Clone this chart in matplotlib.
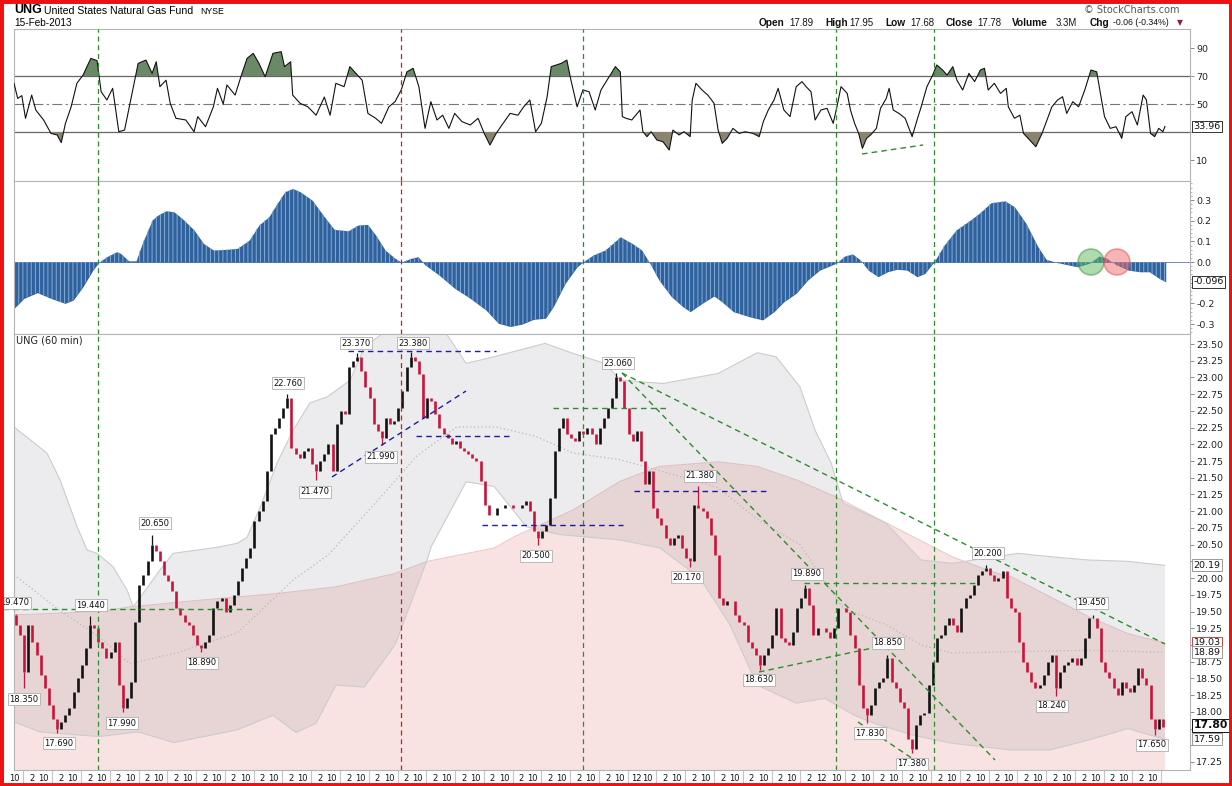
import matplotlib
matplotlib.use("Agg")
import matplotlib.pyplot as plt
import numpy as np
from matplotlib.patches import Circle, Rectangle
from matplotlib.ticker import MultipleLocator, FuncFormatter

W, H = 1232, 786

# hourly closes
closes = [
    19.30, 19.15, 18.60, 19.30, 19.05, 18.85, 18.55, 18.35, 18.10, 17.90,
    17.75, 17.85, 17.95, 18.05, 18.30, 18.50, 18.70, 18.95, 19.30, 19.25,
    19.05, 18.95, 18.80, 18.90, 19.05, 18.40, 18.05, 18.20, 18.45, 19.35,
    19.90, 20.05, 20.25, 20.50, 20.40, 20.25, 20.05, 19.95, 19.80, 19.55,
    19.45, 19.35, 19.30, 19.15, 19.00, 18.95, 19.05, 19.15, 19.55, 19.65,
    19.70, 19.50, 19.60, 19.75, 19.95, 20.15, 20.30, 20.45, 20.85, 21.00,
    21.15, 21.60, 22.15, 22.25, 22.40, 22.55, 22.70, 21.95, 21.85, 21.80,
    21.90, 21.95, 21.70, 21.60, 21.75, 21.85, 22.00, 21.60, 22.30, 22.50,
    22.45, 23.15, 23.25, 23.30, 23.10, 22.85, 22.70, 22.30, 22.20, 22.10,
    22.40, 22.30, 22.35, 22.55, 22.80, 23.15, 23.30, 23.25, 23.05, 22.40,
    22.70, 22.65, 22.45, 22.25, 22.15, 22.10, 22.00, 22.05, 21.95, 21.90,
    21.85, 21.80, 21.75, 21.45, 21.10, 20.95, 20.95, 21.05, 21.05, 21.10,
    21.10, 21.05, 21.05, 21.10, 21.15, 21.00, 20.70, 20.60, 20.70, 20.80,
    21.20, 21.90, 22.25, 22.40, 22.15, 22.10, 22.05, 22.20, 22.15, 22.25,
    22.15, 22.00, 22.25, 22.40, 22.55, 22.70, 23.00, 22.95, 22.55, 22.15,
    22.05, 22.20, 21.75, 21.40, 21.60, 21.05, 20.90, 20.80, 20.60, 20.50,
    20.60, 20.65, 20.45, 20.30, 20.25, 21.10, 21.05, 21.00, 20.90, 20.65,
    20.35, 19.70, 19.60, 19.65, 19.65, 19.45, 19.35, 19.30, 19.05, 18.95,
    18.85, 18.70, 18.85, 18.95, 19.15, 19.55, 19.10, 19.05, 19.00, 19.20,
    19.55, 19.70, 19.85, 19.60, 19.15, 19.25, 19.25, 19.20, 19.10, 19.25,
    19.55, 19.55, 19.50, 19.15, 18.95, 18.40, 18.05, 17.95, 18.10, 18.35,
    18.45, 18.50, 18.80, 18.45, 18.35, 18.15, 18.05, 17.60, 17.45, 17.80,
    17.95, 17.98, 18.40, 18.75, 19.10, 19.15, 19.30, 19.40, 19.30, 19.20,
    19.55, 19.70, 19.75, 19.90, 20.05, 20.10, 20.15, 20.05, 19.95, 20.00,
    20.10, 19.70, 19.55, 19.50, 19.05, 18.75, 18.60, 18.45, 18.35, 18.40,
    18.55, 18.75, 18.85, 18.35, 18.60, 18.70, 18.75, 18.80, 18.70, 18.80,
    19.10, 19.40, 19.40, 19.25, 18.75, 18.60, 18.50, 18.35, 18.25, 18.45,
    18.35, 18.30, 18.40, 18.65, 18.50, 18.40, 17.90, 17.75, 17.90, 17.78,
]
first_open = 19.45

# labelled highs / lows (bar, price)
wick_bar = [0, 2, 10, 18, 26, 33, 45, 66, 73, 83, 89, 96, 127,
            146, 166, 164, 192, 181, 212, 207, 218, 236, 262, 253, 277]
wick_px = [19.47, 18.35, 17.69, 19.44, 17.99, 20.65, 18.89, 22.76, 21.47, 23.37,
           21.99, 23.38, 20.50, 23.06, 21.38, 20.17, 19.89, 18.63, 18.85, 17.83,
           17.38, 20.20, 19.45, 18.24, 17.65]

# RSI line (bar position, value)
rsi_bar = [
    -0.5, 0.4, 1.4, 2.3, 3.8, 4.8, 6.7, 8.5, 10.0, 11.0,
    12.0, 13.4, 14.8, 16.3, 18.2, 19.7, 20.7, 22.1, 23.5, 25.0,
    26.4, 27.4, 28.8, 29.7, 31.6, 33.1, 34.1, 35.0, 36.5, 37.5,
    38.9, 41.3, 43.3, 44.2, 46.1, 48.0, 49.0, 50.4, 51.3, 53.3,
    54.7, 56.2, 57.7, 59.1, 60.6, 62.5, 64.5, 65.3, 66.8, 67.3,
    69.1, 71.0, 73.0, 75.0, 76.4, 77.8, 79.8, 81.2, 82.7, 84.2,
    85.6, 87.5, 88.9, 90.7, 92.2, 93.7, 95.1, 96.6, 98.0, 99.5,
    100.9, 102.4, 103.8, 105.3, 106.7, 108.5, 110.5, 112.4, 113.9, 115.3,
    116.8, 118.2, 120.2, 122.1, 123.5, 125.0, 126.4, 127.8, 129.2, 130.2,
    132.6, 134.0, 135.0, 136.5, 137.9, 139.4, 140.9, 142.3, 144.3, 145.8,
    147.0, 147.5, 148.4, 149.8, 151.8, 152.5, 153.5, 154.5, 155.9, 157.4,
    158.9, 159.8, 161.3, 162.5, 164.0, 164.5, 165.4, 166.9, 168.3, 169.8,
    170.8, 171.8, 173.0, 174.4, 175.9, 177.4, 179.3, 180.8, 181.8, 183.0,
    184.4, 185.4, 186.8, 188.3, 189.8, 191.2, 192.2, 193.4, 194.4, 195.8,
    197.3, 198.8, 199.7, 200.7, 202.2, 203.0, 204.0, 205.0, 205.9, 206.9,
    207.9, 209.3, 210.3, 211.7, 212.4, 213.4, 214.8, 216.3, 218.0, 219.2,
    220.2, 221.6, 223.0, 224.0, 225.4, 226.5, 227.9, 228.9, 230.3, 231.8,
    233.2, 234.6, 235.6, 236.5, 238.0, 239.5, 240.9, 241.4, 242.9, 244.2,
    245.1, 246.6, 248.1, 249.6, 250.5, 252.0, 253.4, 254.6, 255.6, 257.1,
    258.5, 260.0, 261.5, 262.9, 263.8, 264.8, 266.2, 267.6, 269.0, 270.0,
    271.5, 272.8, 274.2, 275.0, 276.0, 277.0, 278.0, 279.0, 279.5,
]
rsi_val = [
    64.8, 54.0, 56.0, 39.8, 56.4, 45.7, 38.6, 29.0, 27.9, 22.4,
    36.0, 48.0, 64.8, 70.7, 82.6, 81.0, 58.8, 52.9, 61.2, 30.2,
    31.4, 45.7, 66.0, 79.0, 81.4, 71.9, 80.2, 62.4, 67.0, 50.5,
    39.8, 38.6, 30.2, 41.0, 33.8, 48.0, 61.2, 50.0, 63.6, 56.4,
    69.5, 82.6, 86.2, 79.0, 69.5, 86.2, 87.4, 76.7, 80.2, 56.4,
    50.5, 48.0, 42.0, 55.0, 42.0, 64.8, 62.4, 76.7, 71.9, 67.0,
    43.3, 39.8, 36.2, 48.0, 51.7, 60.0, 73.0, 75.5, 62.4, 32.6,
    51.7, 38.6, 42.0, 32.6, 43.3, 37.4, 35.0, 39.8, 29.0, 20.7,
    29.0, 35.0, 43.3, 42.0, 48.0, 52.9, 30.2, 36.2, 55.2, 76.7,
    79.0, 81.4, 67.0, 48.0, 60.0, 58.8, 45.7, 60.0, 69.5, 76.7,
    73.0, 41.0, 39.8, 38.6, 45.7, 30.2, 26.7, 30.2, 24.3, 23.0,
    17.1, 31.4, 27.9, 30.2, 26.7, 52.9, 64.8, 60.0, 56.4, 50.5,
    31.4, 21.9, 25.5, 32.6, 29.0, 30.2, 29.0, 26.7, 37.4, 45.7,
    52.9, 61.2, 45.7, 41.0, 62.4, 66.0, 62.4, 58.8, 38.6, 45.7,
    46.9, 36.2, 48.0, 62.4, 57.6, 45.7, 36.2, 29.0, 18.3, 25.5,
    27.9, 32.6, 46.9, 54.0, 61.2, 45.7, 43.3, 39.8, 26.7, 38.6,
    48.0, 62.4, 70.7, 77.9, 74.3, 70.7, 76.7, 67.0, 60.0, 71.9,
    66.0, 74.3, 75.5, 60.0, 64.8, 57.6, 61.2, 48.0, 39.8, 42.0,
    29.0, 24.3, 19.5, 29.0, 36.2, 48.0, 52.9, 55.2, 43.3, 51.7,
    48.0, 60.0, 74.3, 73.0, 57.6, 41.0, 32.6, 33.8, 25.5, 41.0,
    44.5, 35.0, 56.4, 52.9, 29.0, 26.7, 32.6, 30.2, 33.96,
]

# MACD histogram outline (bar position, value)
macd_bar = [
    -0.5, 1.9, 5.2, 8.5, 11.9, 13.9, 16.3, 18.7, 20.2, 22.1,
    24.5, 25.4, 27.4, 29.2, 30.7, 33.1, 34.5, 36.5, 38.4, 40.4,
    43.3, 45.6, 48.0, 50.9, 53.8, 56.7, 59.1, 61.5, 63.5, 65.4,
    67.3, 69.1, 72.0, 75.0, 77.4, 80.8, 83.2, 85.5, 87.5, 89.8,
    92.2, 93.7, 96.1, 97.8, 99.5, 102.9, 106.7, 110.5, 114.3, 117.3,
    120.2, 123.1, 125.9, 128.8, 130.7, 133.6, 136.5, 137.9, 140.4, 143.3,
    147.0, 149.9, 152.2, 154.0, 156.4, 159.4, 162.2, 164.0, 166.9, 169.8,
    171.7, 174.5, 178.3, 181.6, 184.4, 186.8, 189.8, 192.6, 195.5, 198.3,
    199.5, 201.6, 203.5, 205.4, 207.3, 209.7, 212.0, 214.3, 216.7, 219.2,
    221.1, 223.3, 225.8, 228.7, 231.6, 234.3, 237.2, 240.6, 242.9, 245.7,
    248.6, 250.6, 253.4, 258.2, 261.1, 263.5, 265.3, 267.7, 270.6, 273.4,
    275.7, 278.1, 279.7,
]
macd_val = [
    -0.224, -0.176, -0.148, -0.176, -0.200, -0.184, -0.119, -0.039, 0.0, 0.026,
    0.050, 0.042, 0.006, 0.006, 0.090, 0.203, 0.227, 0.248, 0.243, 0.211,
    0.155, 0.090, 0.058, 0.061, 0.066, 0.106, 0.179, 0.219, 0.283, 0.340,
    0.356, 0.340, 0.300, 0.219, 0.158, 0.151, 0.179, 0.182, 0.130, 0.058,
    0.018, 0.0, 0.018, 0.026, -0.014, -0.063, -0.127, -0.176, -0.232, -0.296,
    -0.312, -0.300, -0.277, -0.272, -0.216, -0.103, -0.023, 0.0, 0.034, 0.058,
    0.122, 0.090, 0.058, 0.0, -0.087, -0.167, -0.216, -0.240, -0.200, -0.164,
    -0.192, -0.240, -0.264, -0.280, -0.240, -0.192, -0.151, -0.087, -0.039, -0.016,
    -0.006, 0.029, 0.039, 0.010, -0.039, -0.071, -0.047, -0.035, -0.039, -0.071,
    -0.055, 0.0, 0.082, 0.155, 0.195, 0.235, 0.287, 0.296, 0.267, 0.187,
    0.074, 0.013, -0.003, -0.023, -0.006, 0.029, 0.018, -0.014, -0.039, -0.047,
    -0.047, -0.079, -0.096,
]

# short bands (grey) and long bands (pink) on the price panel
gray_up_bar = [-0.5, 7.5, 10.7, 14.9, 17.3, 19.7, 23.6, 27.0, 28.5, 30.9,
               35.0, 38.2, 48.9, 53.8, 56.2, 59.4, 63.5, 67.4, 71.5, 75.7,
               81.3, 84.7, 92.2, 103.1, 109.5, 116.3, 128.7, 135.5, 143.3, 147.0,
               157.4, 170.8, 180.3, 184.9, 190.7, 194.4, 198.3, 201.2, 205.8, 211.7,
               216.3, 220.2, 227.7, 238.2, 243.8, 251.6, 261.0, 270.5, 279.5]
gray_up = [22.26, 21.87, 21.47, 20.76, 20.42, 20.37, 20.17, 19.82, 19.57, 19.77,
           20.12, 20.37, 20.46, 20.52, 20.61, 21.06, 21.72, 22.21, 22.62, 22.71,
           22.96, 23.45, 23.80, 23.80, 23.21, 23.31, 23.51, 23.36, 23.21, 22.96,
           22.91, 23.06, 23.37, 23.31, 22.86, 22.21, 21.72, 21.12, 20.99, 20.82,
           20.52, 20.27, 20.22, 20.32, 20.37, 20.32, 20.27, 20.25, 20.19]
gray_lo_bar = [-0.5, 5.8, 20.2, 29.7, 38.4, 53.8, 62.5, 68.1, 73.0, 77.8,
               84.7, 92.2, 100.0, 101.0, 109.5, 116.3, 124.1, 132.3, 147.0, 156.7,
               166.4, 173.7, 180.3, 189.8, 196.8, 203.9, 208.7, 218.2, 227.7, 242.1,
               251.6, 261.0, 270.5, 279.5]
gray_lo = [17.85, 17.70, 17.63, 17.70, 17.54, 17.73, 17.95, 17.69, 17.83, 18.40,
           18.37, 19.00, 20.27, 20.47, 21.44, 21.37, 20.77, 20.65, 20.57, 20.45,
           20.00, 19.30, 18.40, 18.13, 18.20, 17.95, 17.83, 17.65, 17.53, 17.43,
           17.43, 17.58, 17.75, 17.59]
gray_mid_bar = [-0.5, 10.5, 20.2, 27.7, 39.0, 53.8, 67.4, 76.0, 83.7, 90.0,
                97.4, 107.2, 116.8, 126.4, 135.5, 147.0, 157.0, 170.8, 180.3, 190.7,
                201.2, 211.7, 220.2, 227.7, 243.8, 261.0, 279.5]
gray_mid = [20.05, 19.52, 19.12, 18.72, 18.88, 19.18, 19.97, 20.35, 20.87, 21.30,
            21.82, 22.26, 22.26, 22.12, 21.87, 21.77, 21.60, 21.35, 20.88, 20.50,
            19.55, 19.30, 19.00, 18.88, 18.90, 18.92, 18.89]
pink_up_bar = [-0.5, 20.4, 27.7, 44.8, 63.5, 77.8, 92.2, 100.0, 116.3, 121.2,
               135.5, 147.0, 156.4, 170.8, 180.3, 189.8, 199.3, 208.7, 218.2, 227.7,
               237.2, 242.1, 251.6, 261.0, 270.5, 279.5]
pink_up = [19.45, 19.50, 19.57, 19.67, 19.77, 19.87, 20.07, 20.25, 20.45, 20.62,
           21.02, 21.45, 21.67, 21.74, 21.67, 21.47, 21.22, 20.92, 20.62, 20.32,
           20.10, 20.02, 19.72, 19.42, 19.17, 19.03]

# ---------------------------------------------------------------- layout
PEAK_TAGS = [
    ("19.470", 15, 603), ("18.350", 24, 699), ("17.690", 59, 743),
    ("19.440", 91, 605), ("17.990", 122, 723), ("20.650", 155, 523),
    ("18.890", 202, 663), ("22.760", 288, 383), ("21.470", 315, 492),
    ("23.370", 356, 343), ("21.990", 381, 457), ("23.380", 413, 343),
    ("20.500", 536, 556), ("23.060", 618, 363), ("21.380", 700, 476),
    ("20.170", 687, 577), ("19.890", 807, 574), ("18.630", 759, 680),
    ("18.850", 888, 643), ("17.830", 870, 733), ("17.380", 912, 764),
    ("20.200", 988, 553), ("19.450", 1092, 603), ("18.240", 1052, 706),
    ("17.650", 1152, 745),
]
BLUE_LINES = [((348, 351), (496, 351)), ((332, 477), (466, 391)),
              ((416, 436), (510, 436)), ((482, 525), (623, 525)),
              ((634, 491), (768, 491))]
GREEN_LINES = [((3, 609), (253, 609)), ((553, 408), (667, 408)),
               ((622, 373), (1165, 644)), ((622, 373), (995, 760)),
               ((804, 583), (979, 583)), ((759, 672), (901, 642)),
               ((858, 722), (925, 767))]
GREEN_V = [98, 583, 836, 934]
RED_V = [401]
GREEN = "#2e8b2e"
BLUE = "#1c1c9c"
DASH = (0, (4, 3))
UP_COL, DOWN_COL = "#111111", "#c8143a"
SANS = ["Liberation Sans", "DejaVu Sans"]

L, R = 14, 1190
XMIN, XMAX = -0.5, 285.6


def fx(px):
    return px / W


def fy(py):
    return 1 - py / H


def box(top, bottom):
    return [L / W, 1 - bottom / H, (R - L) / W, (bottom - top) / H]


def hide_labels(fmt, hidden):
    return FuncFormatter(lambda v, pos: "" if any(abs(v - h) < 1e-6 for h in hidden)
                         else fmt % v)


fig = plt.figure(figsize=(W / 100, H / 100), dpi=100)
fig.patch.set_facecolor("white")
ax_rsi = fig.add_axes(box(29, 181))
ax_macd = fig.add_axes(box(181, 334))
ax_px = fig.add_axes(box(334, 770))
axes = (ax_rsi, ax_macd, ax_px)

for ax in axes:
    ax.set_xlim(XMIN, XMAX)
    for s in ax.spines.values():
        s.set_color("#b4b4b4")
        s.set_linewidth(0.8)
    ax.yaxis.tick_right()
    ax.tick_params(axis="y", which="major", direction="out", length=3, width=0.6,
                   color="#777777", labelsize=6.8, pad=1.5, labelcolor="#222222")
    ax.tick_params(axis="y", which="minor", direction="out", length=1.5, width=0.5,
                   color="#999999")
    ax.tick_params(axis="x", bottom=False, labelbottom=False)

ax_rsi.set_ylim(-5, 103.6)
ax_macd.set_ylim(-0.348, 0.392)
ax_px.set_ylim(17.13, 23.65)
fig.canvas.draw()


def to_data(ax, px, py):
    return ax.transData.inverted().transform((px, H - py))


# ---------------------------------------------------------------- RSI
rx = np.array(rsi_bar)
ry = np.array(rsi_val)
ax_rsi.fill_between(rx, ry, 70, where=ry >= 70, interpolate=True,
                    color="#6a8966", lw=0, zorder=2)
ax_rsi.fill_between(rx, ry, 30, where=ry <= 30, interpolate=True,
                    color="#8a836f", lw=0, zorder=2)
ax_rsi.plot(rx, ry, color="#111111", lw=0.8, zorder=3)
ax_rsi.axhline(70, color="#666666", lw=0.9, zorder=1)
ax_rsi.axhline(30, color="#666666", lw=0.9, zorder=1)
ax_rsi.axhline(50, color="#777777", lw=0.8, ls=(0, (9, 3, 2, 3)), zorder=1)
ax_rsi.set_yticks([10, 30, 50, 70, 90])
ax_rsi.yaxis.set_major_formatter(hide_labels("%d", [30]))
(x0, y0), (x1, y1) = to_data(ax_rsi, 862, 154), to_data(ax_rsi, 923, 145)
ax_rsi.plot([x0, x1], [y0, y1], color=GREEN, lw=1.0, ls=DASH, zorder=4)

# ---------------------------------------------------------------- MACD histogram
mx = np.array(macd_bar)
my = np.array(macd_val)
ax_macd.fill_between(mx, my, 0, color="#2f619d", lw=0, zorder=2)
plt.rcParams["hatch.linewidth"] = 0.7
ax_macd.fill_between(mx, my, 0, facecolor="none", edgecolor="#86acd6",
                     hatch="||||", lw=0, zorder=2.1)
ax_macd.axhline(0, color="#2f619d", lw=0.5, zorder=1)
ax_macd.set_yticks([-0.3, -0.2, -0.1, 0.0, 0.1, 0.2, 0.3])
ax_macd.yaxis.set_major_formatter(hide_labels("%.1f", [-0.1]))
ax_macd.yaxis.set_minor_locator(MultipleLocator(0.02))
for cx, fc, ec in [(1091, "#5cb85c", "#3f8f3f"), (1117, "#f06a6a", "#e05050")]:
    ax_macd.add_patch(Circle((cx / 100, (H - 262) / 100), 0.13,
                             transform=fig.dpi_scale_trans, facecolor=fc,
                             edgecolor=ec, lw=1.2, alpha=0.5, zorder=6))

# ---------------------------------------------------------------- price panel
pink_x = pink_up_bar + [pink_up_bar[-1], pink_up_bar[0]]
pink_y = pink_up + [16.9, 16.9]
ax_px.fill(pink_x, pink_y, color="#f8e2e2", lw=0, zorder=1)
ax_px.plot(pink_up_bar, pink_up, color="#e9caca", lw=0.7, zorder=1.2)

gx = gray_up_bar + gray_lo_bar[::-1]
gy = gray_up + gray_lo[::-1]
ax_px.fill(gx, gy, color="#9a9aa4", alpha=0.18, lw=0, zorder=1.5)
ax_px.plot(gray_up_bar, gray_up, color="#cccccc", lw=0.8, zorder=1.6)
ax_px.plot(gray_lo_bar, gray_lo, color="#cccccc", lw=0.8, zorder=1.6)
ax_px.plot(gray_mid_bar, gray_mid, color="#b8b8b8", lw=0.9, ls=(0, (1, 2)), zorder=1.7)

c = np.array(closes)
o = np.concatenate([[first_open], c[:-1]])
bx = np.arange(len(c))
up = c >= o
ax_px.vlines(bx[up], o[up], c[up], color=UP_COL, lw=1.9, zorder=5)
ax_px.vlines(bx[~up], c[~up], o[~up], color=DOWN_COL, lw=1.9, zorder=5)
for b, ext in zip(wick_bar, wick_px):
    body = min(o[b], c[b]) if ext < min(o[b], c[b]) else max(o[b], c[b])
    ax_px.vlines(b, ext, body, color=UP_COL if up[b] else DOWN_COL, lw=0.9, zorder=5)

for lines, col in [(BLUE_LINES, BLUE), (GREEN_LINES, GREEN)]:
    for p0, p1 in lines:
        (x0, y0), (x1, y1) = to_data(ax_px, *p0), to_data(ax_px, *p1)
        ax_px.plot([x0, x1], [y0, y1], color=col, lw=1.0, ls=DASH, zorder=6,
                   clip_on=False)

for txt, px, py in PEAK_TAGS:
    x, y = to_data(ax_px, px, py)
    ax_px.text(x, y, txt, fontsize=6, ha="center", va="center", color="#111111",
               bbox=dict(boxstyle="square,pad=0.15", fc="white", ec="#b0b0b0", lw=0.6),
               zorder=9, clip_on=False)

ax_px.set_yticks(np.arange(17.25, 23.51, 0.25))
ax_px.yaxis.set_major_formatter(hide_labels("%.2f", [20.25, 19.00, 17.75, 17.50]))
ax_px.text(0.002, 23.55, "UNG (60 min)", transform=ax_px.get_yaxis_transform(),
           fontsize=7, color="#222222", va="center", ha="left", zorder=9)

for ax in axes:
    for px in GREEN_V:
        ax.axvline(to_data(ax, px, 400)[0], color=GREEN, lw=0.9, ls=DASH, zorder=7)
    for px in RED_V:
        ax.axvline(to_data(ax, px, 400)[0], color="#cc2020", lw=0.9, ls=DASH, zorder=7)


def right_tag(ax, y, txt, ec, bold=False, size=6.8):
    ax.text(1.003, y, txt, transform=ax.get_yaxis_transform(), ha="left", va="center",
            fontsize=size, fontweight="bold" if bold else "normal", color="#111111",
            bbox=dict(boxstyle="square,pad=0.15", fc="white", ec=ec, lw=0.7),
            zorder=20, clip_on=False)


right_tag(ax_rsi, 33.96, "33.96", "#333333")
right_tag(ax_macd, -0.096, "-0.096", "#333333")
right_tag(ax_px, 20.19, "20.19", "#999999")
right_tag(ax_px, 19.03, "19.03", "#cc4444")
right_tag(ax_px, 18.89, "18.89", "#999999")
right_tag(ax_px, 17.80, "17.80", "#111111", bold=True, size=7.8)
right_tag(ax_px, 17.59, "17.59", "#999999")

# ---------------------------------------------------------------- time axis
tick_txt, tick_pos, sep_pos = [], [], []
for d in range(28):
    p = -0.3 + 7 * d
    tick_txt += ["10", "12" if d == 21 else "2"]
    tick_pos += [p, p + 4.2]
    sep_pos.append(p + 2.1)
tick_txt.append("12")
tick_pos.append(196.0)
for d in range(12):
    p = 199.5 + 7 * d
    tick_txt.append("10")
    tick_pos.append(p)
    sep_pos.append(p + 2.1)
    if p + 4.2 < 279:
        tick_txt.append("2")
        tick_pos.append(p + 4.2)

tr = ax_px.get_xaxis_transform()
for t, p in zip(tick_txt, tick_pos):
    ax_px.text(p, -0.019, t, transform=tr, ha="center", va="center",
               fontsize=6, color="#111111", clip_on=False)
for p in sep_pos:
    ax_px.plot([p, p], [0, -0.036], transform=tr, color="#c4c4c4", lw=0.8, clip_on=False)

# ---------------------------------------------------------------- header
fig.text(fx(14), fy(10), "UNG", fontsize=9, fontweight="bold", family=SANS, va="center")
fig.text(fx(44), fy(10.5), "United States Natural Gas Fund", fontsize=7.6, family=SANS,
         va="center")
fig.text(fx(200), fy(11), "NYSE", fontsize=6.3, family=SANS, va="center")
fig.text(fx(14), fy(23.5), "15-Feb-2013", fontsize=7.2, family=SANS, va="center")
fig.text(fx(1179), fy(10), "\u00a9 StockCharts.com", fontsize=7, color="#555555",
         ha="right", va="center")

header = [("Open", 759, True, 7.3), ("17.89", 789, False, 6.9),
          ("High", 825, True, 7.3), ("17.95", 849, False, 6.9),
          ("Low", 885, True, 7.3), ("17.68", 910, False, 6.9),
          ("Close", 946, True, 7.3), ("17.78", 977, False, 6.9),
          ("Volume", 1012, True, 7.3), ("3.3M", 1056, False, 6.9),
          ("Chg", 1090, True, 7.3), ("-0.06 (-0.34%)", 1113, False, 6.3)]
for txt, px, bold, size in header:
    fig.text(fx(px), fy(22.5), txt, fontsize=size, family=SANS,
             fontweight="bold" if bold else "normal", va="center", color="#111111")
fig.text(fx(1177), fy(22.5), "\u25bc", fontsize=5.5, color="#8e1b3c", va="center")

fig.patches.append(Rectangle((0, 0), 1, 1, transform=fig.transFigure, fill=False,
                             edgecolor="#ee1111", lw=5, zorder=50))

fig.savefig("out.png", dpi=100, facecolor="white")
